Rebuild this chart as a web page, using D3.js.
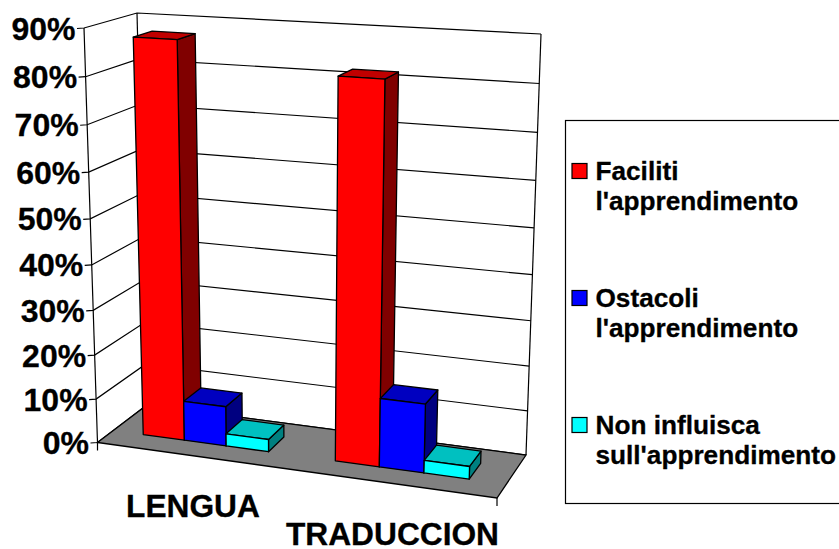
<!DOCTYPE html>
<html>
<head>
<meta charset="utf-8">
<script src="https://cdn.jsdelivr.net/npm/d3@7/dist/d3.min.js"></script>
<style>
  html, body { margin: 0; padding: 0; background: #fff; overflow: hidden; }
  text { font-family: "Liberation Sans", Arial, sans-serif; font-weight: bold; fill: #000; stroke: #000; stroke-width: 0.3; }
</style>
</head>
<body>
<svg id="chart" width="839" height="549"></svg>
<script>
const categories = ["LENGUA", "TRADUCCION"];
const series = ["Faciliti", "Ostacoli", "Non influisca"];
const faciliti = [87.5, 82];
const ostacoli = [9, 15.2];
const nonInfluisca = [2.8, 2.8];
const yTicks = [0, 10, 20, 30, 40, 50, 60, 70, 80, 90];

const legendLines = [
    ["Faciliti", "l'apprendimento"],
    ["Ostacoli", "l'apprendimento"],
    ["Non influisca", "sull'apprendimento"]
];
const faceColors = ["#ff0000", "#0000ff", "#00ffff"];
const topColors = ["#c00000", "#0000c0", "#00c0c0"];
const sideColors = ["#800000", "#000080", "#008080"];

const values = [faciliti, ostacoli, nonInfluisca];

const svg = d3.select("#chart");

// corners of the 3D box on screen: [bottom, top]
const box = {
    fl: [[97.5, 442.5], [84, 28]],
    bl: [[147, 405], [137, 13]],
    br: [[526, 455], [541, 34]],
    fr: [[497, 498], [512, 52]]
};

const lerp = (a, b, t) => [a[0] + (b[0] - a[0]) * t, a[1] + (b[1] - a[1]) * t];

// u along the categories, v into the depth, w up the value axis (all 0..1)
function project(u, v, w) {
    // small perspective shifts
    const ue = u + 0.066 * u * (u - 1);
    const we = w + 0.065 * w * (w - 1);
    const bottom = lerp(lerp(box.fl[0], box.fr[0], ue), lerp(box.bl[0], box.br[0], ue), v);
    const top = lerp(lerp(box.fl[1], box.fr[1], ue), lerp(box.bl[1], box.br[1], ue), v);
    return lerp(bottom, top, we);
}

const yScale = d3.scaleLinear().domain([0, 90]).range([0, 1]);
const xScale = d3.scaleBand().domain(categories).range([-0.004, 0.996]).paddingInner(0.34).paddingOuter(0.17);
const xSeries = d3.scaleBand().domain(series).range([0, xScale.bandwidth()]);
const depth = d3.scaleLinear().domain([0, 1]).range([0.32, 0.69]);

const line = d3.line();
const poly = pts => line(pts) + "Z";

// grid lines and ticks
const grid = svg.append("g").attr("fill", "none").attr("stroke", "#000").attr("stroke-width", 1.2);
grid.selectAll("path")
    .data(yTicks)
    .join("path")
    .attr("d", d => {
        const w = yScale(d);
        const a = project(0, 0, w);
        return line([[a[0] - 7, a[1] + 0.5], a, project(0, 1, w), project(1, 1, w)]);
    });

grid.append("path").attr("d", line([project(0, 0, 0), project(0, 0, 1)]));
grid.append("path").attr("d", line([project(0, 1, 0), project(0, 1, 1)]));
grid.append("path").attr("d", line([project(1, 1, 0), project(1, 1, 1)]));

// floor
svg.append("path")
    .attr("d", poly([box.fl[0], box.bl[0], box.br[0], box.fr[0]]))
    .attr("fill", "#808080")
    .attr("stroke", "#000")
    .attr("stroke-width", 1.3);

svg.append("g").attr("stroke", "#000").attr("stroke-width", 1.2)
    .selectAll("path")
    .data([box.fl[0], box.fr[0]])
    .join("path")
    .attr("d", d => line([d, [d[0], d[1] + 8]]));

// bars, left to right so each one covers the side of the previous
const bars = [];
categories.forEach((cat, c) => {
    series.forEach((s, i) => {
        bars.push({ cat, s, i, value: values[i][c] });
    });
});

const barG = svg.selectAll("g.bar")
    .data(bars)
    .join("g")
    .attr("class", "bar")
    .attr("stroke", "#000")
    .attr("stroke-width", 1.3)
    .attr("stroke-linejoin", "round");

const corners = d => {
    const u0 = xScale(d.cat) + xSeries(d.s);
    const u1 = u0 + xSeries.bandwidth();
    const v0 = depth(0), v1 = depth(1), w = yScale(d.value);
    return { u0, u1, v0, v1, w };
};

barG.append("path")
    .attr("fill", d => sideColors[d.i])
    .attr("d", d => {
        const k = corners(d);
        return poly([project(k.u1, k.v0, 0), project(k.u1, k.v1, 0), project(k.u1, k.v1, k.w), project(k.u1, k.v0, k.w)]);
    });
barG.append("path")
    .attr("fill", d => topColors[d.i])
    .attr("d", d => {
        const k = corners(d);
        return poly([project(k.u0, k.v0, k.w), project(k.u0, k.v1, k.w), project(k.u1, k.v1, k.w), project(k.u1, k.v0, k.w)]);
    });
barG.append("path")
    .attr("fill", d => faceColors[d.i])
    .attr("d", d => {
        const k = corners(d);
        return poly([project(k.u0, k.v0, 0), project(k.u1, k.v0, 0), project(k.u1, k.v0, k.w), project(k.u0, k.v0, k.w)]);
    });

// value labels
svg.append("g").attr("text-anchor", "end").attr("font-size", 32)
    .selectAll("text")
    .data(yTicks)
    .join("text")
    .attr("x", d => project(0, 0, yScale(d))[0] - 8.5)
    .attr("y", d => project(0, 0, yScale(d))[1] + 11.5)
    .text(d => d + "%");

// category labels
const catLabelX = [193, 392.5];
const catLabelY = [517, 545];
svg.append("g").attr("text-anchor", "middle").attr("font-size", 31.7)
    .selectAll("text")
    .data(categories)
    .join("text")
    .attr("x", (d, i) => catLabelX[i])
    .attr("y", (d, i) => catLabelY[i])
    .text(d => d);

// legend
svg.append("rect")
    .attr("x", 565.5).attr("y", 120.5)
    .attr("width", 290).attr("height", 383)
    .attr("fill", "#fff").attr("stroke", "#000").attr("stroke-width", 1.2);

const legendTop = [180, 307, 434];
const legend = svg.selectAll("g.legend")
    .data(legendLines)
    .join("g")
    .attr("class", "legend")
    .attr("transform", (d, i) => `translate(0,${legendTop[i]})`);

legend.append("rect")
    .attr("x", 572).attr("y", -16.5)
    .attr("width", 15).attr("height", 15)
    .attr("stroke", "#000").attr("stroke-width", 1.2)
    .attr("fill", (d, i) => faceColors[i]);

legend.selectAll("text")
    .data(d => d)
    .join("text")
    .attr("x", 595.5)
    .attr("y", (d, i) => i * 30)
    .attr("font-size", 26.2)
    .text(d => d);
</script>
</body>
</html>
